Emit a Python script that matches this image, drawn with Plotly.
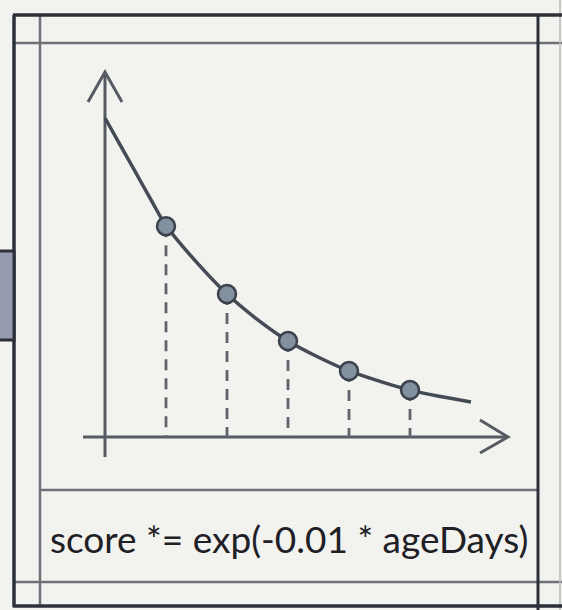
import plotly.graph_objects as go

# ---- data ----
curve_days = [0, 10, 20, 30, 40, 60, 80, 100, 120, 140, 160, 180, 200, 220, 240]
curve_score = [1.00, 0.915, 0.83, 0.745, 0.663, 0.548, 0.448, 0.368, 0.301, 0.250, 0.207, 0.175, 0.147, 0.127, 0.110]
point_days = [40, 80, 120, 160, 200]
point_score = [0.661, 0.448, 0.301, 0.207, 0.147]
caption = "score *= exp(-0.01 * ageDays)"

W, H = 562, 610
BG = "#f2f2ee"
DARK = "#2c303b"
GRAY = "#6e7178"
AX = "#555a63"

# data window (days / score) that fills the figure
X_RANGE = [-68.85, 299.67]
Y_RANGE = [-0.5423, 1.3699]


def px(x):
    return x / W


def py(y):
    return 1 - y / H


fig = go.Figure()

# dashed drop lines
dx, dy = [], []
for d, s in zip(point_days, point_score):
    dx += [d, d, None]
    dy += [s, 0, None]
fig.add_trace(go.Scatter(x=dx, y=dy, mode="lines",
                         line=dict(color="#5f636b", width=2.8, dash="11px,8px"),
                         hoverinfo="skip", showlegend=False))

# decay curve
fig.add_trace(go.Scatter(x=curve_days, y=curve_score, mode="lines",
                         line=dict(color="#454b55", width=3.5, shape="spline"),
                         hoverinfo="skip", showlegend=False))

# sample points
fig.add_trace(go.Scatter(x=point_days, y=point_score, mode="markers",
                         marker=dict(size=18, color="#8290a0",
                                     line=dict(color="#3b414b", width=2.5)),
                         hoverinfo="skip", showlegend=False))

shapes = []


def line(x0, y0, x1, y1, color, width):
    shapes.append(dict(type="line", xref="paper", yref="paper",
                       x0=px(x0), y0=py(y0), x1=px(x1), y1=py(y1),
                       line=dict(color=color, width=width), layer="below"))


def path(pts, color, width):
    d = "M " + " L ".join(f"{px(a)},{py(b)}" for a, b in pts)
    shapes.append(dict(type="path", xref="paper", yref="paper", path=d,
                       line=dict(color=color, width=width), layer="below"))


# frame: gray inner lines
line(14, 43, 562, 43, GRAY, 2.5)
line(40, 15, 40, 605, GRAY, 2.5)
line(14, 582, 562, 582, GRAY, 2.5)
line(40, 490, 538, 490, GRAY, 2.5)
line(560, 0, 560, 610, "#b9bbbd", 1.5)
# frame: dark outer lines
line(13, 15, 562, 15, DARK, 3.5)
line(14, 15, 14, 607, DARK, 3.5)
line(13, 606, 562, 606, DARK, 3.5)
line(538, 15, 538, 610, DARK, 3)
# left tab
shapes.append(dict(type="rect", xref="paper", yref="paper",
                   x0=px(-5), y0=py(340), x1=px(14), y1=py(251),
                   fillcolor="#959caf", line=dict(color=DARK, width=3), layer="below"))

# axes with arrow heads
line(105, 457, 105, 73, AX, 3)
path([(88, 102), (105, 72), (122, 102)], AX, 3)
line(83, 437, 507, 437, AX, 3)
path([(480, 420), (508, 437), (480, 453)], AX, 3)

fig.update_layout(
    width=W, height=H, autosize=False,
    margin=dict(l=0, r=0, t=0, b=0),
    paper_bgcolor=BG, plot_bgcolor=BG,
    shapes=shapes,
    xaxis=dict(range=X_RANGE, visible=False, fixedrange=True),
    yaxis=dict(range=Y_RANGE, visible=False, fixedrange=True),
    annotations=[dict(text=caption, xref="paper", yref="paper",
                      x=px(289), y=py(538), xanchor="center", yanchor="middle",
                      showarrow=False,
                      font=dict(family="Lato, Roboto, sans-serif",
                                size=37, color="#1e2025"))],
)

fig.write_html("out.html", config={"displayModeBar": False},
               post_script="document.body.style.margin='0';document.body.style.background='" + BG + "';")
